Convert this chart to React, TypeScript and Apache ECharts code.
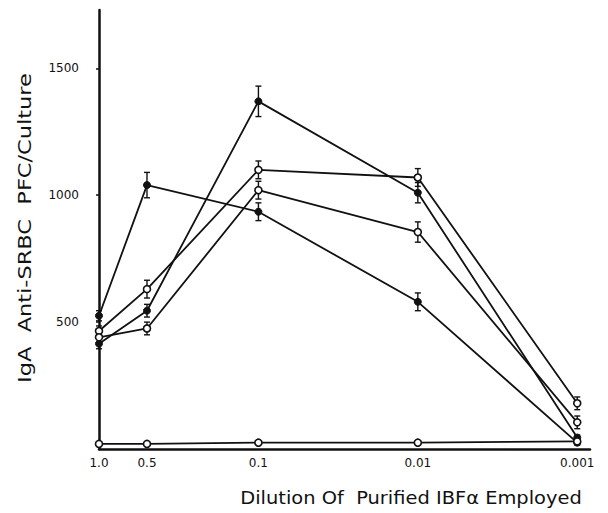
import React, { useEffect, useRef } from "react";
import * as echarts from "echarts";

// Dilutions of purified IBFα (x axis, plotted on a log scale)
const dilutions = [1.0, 0.5, 0.1, 0.01, 0.001];
const dilutionLabels = ["1.0", "0.5", "0.1", "0.01", "0.001"];

// IgA anti-SRBC PFC/culture, one array per curve
const seriesA = [525, 1040, 935, 580, 25]; // filled
const errA = [20, 50, 35, 35, 10];
const seriesB = [415, 545, 1370, 1010, 45]; // filled
const errB = [20, 25, 60, 40, 10];
const seriesC = [465, 630, 1100, 1070, 180]; // open
const errC = [20, 35, 35, 35, 25];
const seriesD = [440, 475, 1020, 855, 105]; // open
const errD = [20, 25, 35, 40, 25];
const seriesE = [20, 20, 25, 25, 30]; // open, baseline

const yTicks = [500, 1000, 1500];

const yTitle = "IgA  Anti-SRBC  PFC/Culture";
const xTitle = "Dilution Of  Purified IBFα Employed";

const FONT = "'DejaVu Sans', sans-serif";

const xPos = (d: number) => -Math.log10(d);

function lineSeries(name: string, values: number[], filled: boolean) {
  return {
    name,
    type: "line",
    data: values.map((v, i) => [xPos(dilutions[i]), v]),
    symbol: "circle",
    symbolSize: 7,
    showSymbol: true,
    lineStyle: { color: "#111", width: 1.8 },
    itemStyle: filled
      ? { color: "#111", borderColor: "#111", borderWidth: 1 }
      : { color: "#fff", borderColor: "#111", borderWidth: 1.6 },
    z: 3,
  };
}

function errorSeries(values: number[], errs: number[]) {
  return {
    type: "custom",
    data: values.map((v, i) => [xPos(dilutions[i]), v - errs[i], v + errs[i]]),
    renderItem: (params: any, api: any) => {
      const x = api.value(0);
      const lo = api.coord([x, api.value(1)]);
      const hi = api.coord([x, api.value(2)]);
      const cap = 3;
      const style = { stroke: "#111", lineWidth: 1.4 };
      return {
        type: "group",
        children: [
          { type: "line", shape: { x1: lo[0], y1: lo[1], x2: hi[0], y2: hi[1] }, style },
          { type: "line", shape: { x1: lo[0] - cap, y1: lo[1], x2: lo[0] + cap, y2: lo[1] }, style },
          { type: "line", shape: { x1: hi[0] - cap, y1: hi[1], x2: hi[0] + cap, y2: hi[1] }, style },
        ],
      };
    },
    z: 2,
    silent: true,
  };
}

export default function App() {
  const ref = useRef<HTMLDivElement>(null);
  useEffect(() => {
    if (!ref.current) return;
    const chart = echarts.init(ref.current, null, { renderer: "svg" });
    chart.setOption({
      animation: false,
      backgroundColor: "#fff",
      grid: { left: 99, right: 18, top: 10, bottom: 64 },
      xAxis: {
        type: "value",
        min: 0,
        max: 3.08,
        axisLine: { show: true, lineStyle: { color: "#111", width: 2.5 } },
        axisTick: { show: false },
        splitLine: { show: false },
        axisLabel: {
          customValues: dilutions.map(xPos),
          formatter: (v: number) => {
            const i = dilutions.findIndex((d) => Math.abs(xPos(d) - v) < 1e-6);
            return i >= 0 ? dilutionLabels[i] : "";
          },
          color: "#111",
          fontSize: 12,
          fontFamily: FONT,
          margin: 8,
        },
      },
      yAxis: {
        type: "value",
        min: 0,
        max: 1730,
        axisLine: { show: true, lineStyle: { color: "#111", width: 2.5 } },
        axisTick: { show: true, customValues: yTicks, length: 3, lineStyle: { color: "#111", width: 1.5 } },
        splitLine: { show: false },
        axisLabel: {
          customValues: yTicks,
          formatter: (v: number) => String(v),
          color: "#111",
          fontSize: 12,
          fontFamily: FONT,
          margin: 20,
        },
      },
      graphic: [
        {
          type: "text",
          x: 25,
          y: 228,
          rotation: Math.PI / 2,
          scaleX: 1.25,
          style: {
            text: yTitle,
            fill: "#111",
            font: `18px ${FONT}`,
            textAlign: "center",
            textVerticalAlign: "middle",
          },
        },
        {
          type: "text",
          x: 411,
          y: 498,
          scaleX: 1.08,
          style: {
            text: xTitle,
            fill: "#111",
            font: `18px ${FONT}`,
            textAlign: "center",
            textVerticalAlign: "middle",
          },
        },
      ],
      series: [
        lineSeries("A", seriesA, true),
        lineSeries("B", seriesB, true),
        lineSeries("C", seriesC, false),
        lineSeries("D", seriesD, false),
        lineSeries("E", seriesE, false),
        errorSeries(seriesA, errA),
        errorSeries(seriesB, errB),
        errorSeries(seriesC, errC),
        errorSeries(seriesD, errD),
      ],
    });
    return () => chart.dispose();
  }, []);
  return (
    <div
      ref={ref}
      style={{ position: "fixed", left: 0, top: 0, width: 608, height: 513 }}
    />
  );
}
